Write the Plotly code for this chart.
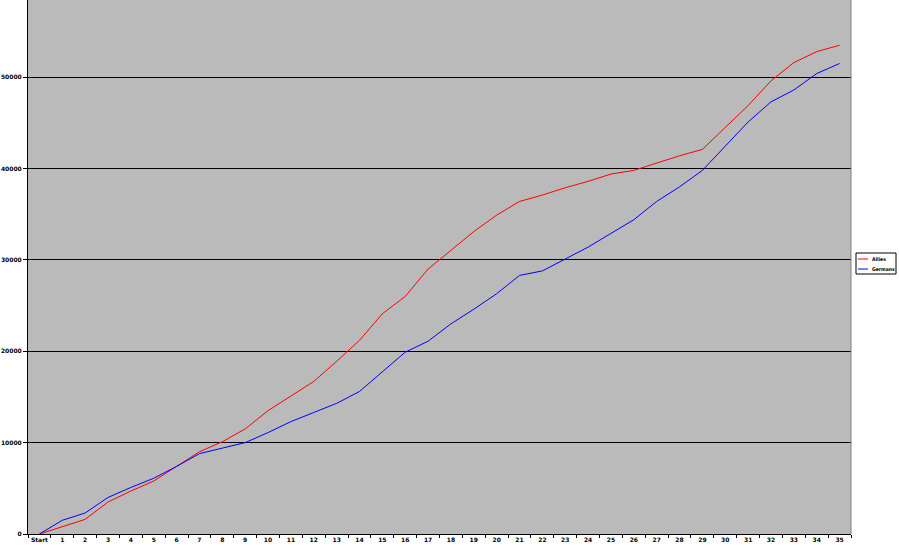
import plotly.graph_objects as go

categories = ["Start"] + [str(i) for i in range(1, 36)]

allies = [0, 800, 1600, 3500, 4700, 5800, 7400, 9000, 10100, 11500,
          13500, 15100, 16700, 18900, 21200, 24100, 26000, 29000, 31100, 33100,
          34900, 36400, 37100, 37900, 38600, 39400, 39800, 40600, 41400, 42100,
          44500, 46900, 49600, 51600, 52800, 53500]

germans = [0, 1500, 2300, 4000, 5100, 6100, 7400, 8800, 9400, 10000,
           11100, 12300, 13300, 14300, 15600, 17700, 19900, 21100, 23000, 24600,
           26300, 28300, 28800, 30100, 31400, 32900, 34400, 36400, 38000, 39800,
           42400, 45100, 47300, 48600, 50400, 51500]

y_ticks = [0, 10000, 20000, 30000, 40000, 50000]

series = [("Allies", allies, "#ff0000"), ("Germans", germans, "#0000ff")]

fig = go.Figure()
for name, vals, col in series:
    fig.add_trace(go.Scatter(x=categories, y=vals, name=name, mode="lines",
                             line=dict(color=col, width=1), showlegend=False))

tick_font = dict(family="DejaVu Sans", size=6, color="#000000", weight="bold")

W, H = 899, 553
L, R, T, B = 28, 48, 0, 19
pw, ph = W - L - R, H - T - B

def px2paper(x, y):
    return (x - L) / pw, (H - B - y) / ph

fig.update_layout(
    width=W, height=H,
    margin=dict(l=L, r=R, t=T, b=B, autoexpand=False),
    paper_bgcolor="#ffffff",
    plot_bgcolor="#bababa",
    showlegend=False,
    xaxis=dict(type="category", range=[-0.5, 35.5], tickson="boundaries",
               ticks="outside", ticklen=3, tickcolor="#000000", tickangle=0,
               showgrid=False, showline=True, linecolor="#000000", linewidth=1,
               tickfont=tick_font, zeroline=False, automargin=False),
    yaxis=dict(range=[0, 58450], tickvals=y_ticks,
               ticktext=[str(v) for v in y_ticks],
               ticks="outside", ticklen=4, tickcolor="#000000",
               showgrid=True, gridcolor="#000000", gridwidth=1,
               showline=True, linecolor="#000000", linewidth=1,
               tickfont=tick_font, zeroline=False, automargin=False),
)

# right border of plot area
fig.add_shape(type="line", xref="paper", yref="paper", x0=1, x1=1, y0=0, y1=1,
              line=dict(color="#808080", width=1))

# custom compact legend (Excel style)
bx0, by0 = px2paper(856, 274)
bx1, by1 = px2paper(896, 253)
fig.add_shape(type="rect", xref="paper", yref="paper", x0=bx0, x1=bx1, y0=by0, y1=by1,
              line=dict(color="#000000", width=1), fillcolor="#ffffff", layer="above")
for i, (name, vals, col) in enumerate(series):
    yy = 259 + i * 10
    lx0, ly = px2paper(858, yy)
    lx1, _ = px2paper(868, yy)
    tx, _ = px2paper(870, yy)
    fig.add_shape(type="line", xref="paper", yref="paper", x0=lx0, x1=lx1, y0=ly, y1=ly,
                  line=dict(color=col, width=1), layer="above")
    fig.add_annotation(xref="paper", yref="paper", x=tx, y=ly, text=name,
                       showarrow=False, xanchor="left", yanchor="middle",
                       font=dict(family="DejaVu Sans Condensed, DejaVu Sans", size=5,
                                 color="#000000", weight="bold"))

fig.write_html("out.html", config={"displayModeBar": False},
               post_script="document.body.style.margin='0';document.body.style.padding='0';")
